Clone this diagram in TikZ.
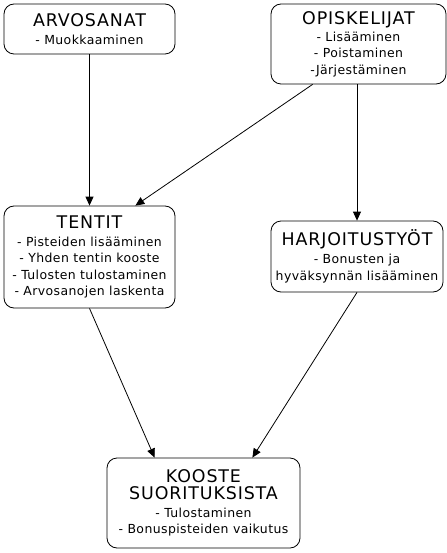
\documentclass[tikz,border=0pt]{standalone}
\usepackage{fontspec}
\setmainfont{DejaVu Sans}[LetterSpace=3.3]
\usetikzlibrary{arrows.meta}
\newcommand{\hd}{\fontsize{17.5}{20}\selectfont\addfontfeature{LetterSpace=5}}

\begin{document}
\begin{tikzpicture}[x=1bp, y=-1bp, line width=0.8pt,
  >={Triangle[length=9pt,width=8pt]},
  box/.style={draw, rounded corners=10bp, align=center, inner sep=0pt,
    font=\fontsize{12.5}{16.5}\selectfont}]
  \useasboundingbox (0,0) rectangle (447,553);
  \node[box, minimum width=171bp, minimum height=50bp] (arv) at (89.5,29)
    {{\hd ARVOSANAT}\\[1.5pt] - Muokkaaminen};
  \node[box, minimum width=175bp, minimum height=80bp] (opi) at (358.5,44)
    {{\hd OPISKELIJAT}\\[0.5pt] - Lisääminen\\ - Poistaminen\\ -Järjestäminen};
  \node[box, minimum width=171bp, minimum height=102bp] (ten) at (89.5,257)
    {{\hd TENTIT}\\[1.5pt] - Pisteiden lisääminen\\ - Yhden tentin kooste\\
     - Tulosten tulostaminen\\ - Arvosanojen laskenta};
  \node[box, minimum width=172bp, minimum height=71bp] (harj) at (357,256.5)
    {{\hd HARJOITUSTYÖT}\\[1.5pt] - Bonusten ja\\ hyväksynnän lisääminen};
  \node[box, minimum width=193bp, minimum height=90bp] (koo) at (203.5,503)
    {{\hd KOOSTE}\\{\hd SUORITUKSISTA}\\[1.5pt] - Tulostaminen\\
     - Bonuspisteiden vaikutus};
  \path[->]
  (arv) edge (ten)
  (opi.south -| harj.north) edge (harj.north)
  ([xshift=42bp]opi.south west) edge ([xshift=-40bp]ten.north east)
  (ten.south) edge ([xshift=48bp]koo.north west)
  (harj.south) edge ([xshift=-48bp]koo.north east);
\end{tikzpicture}
\end{document}
